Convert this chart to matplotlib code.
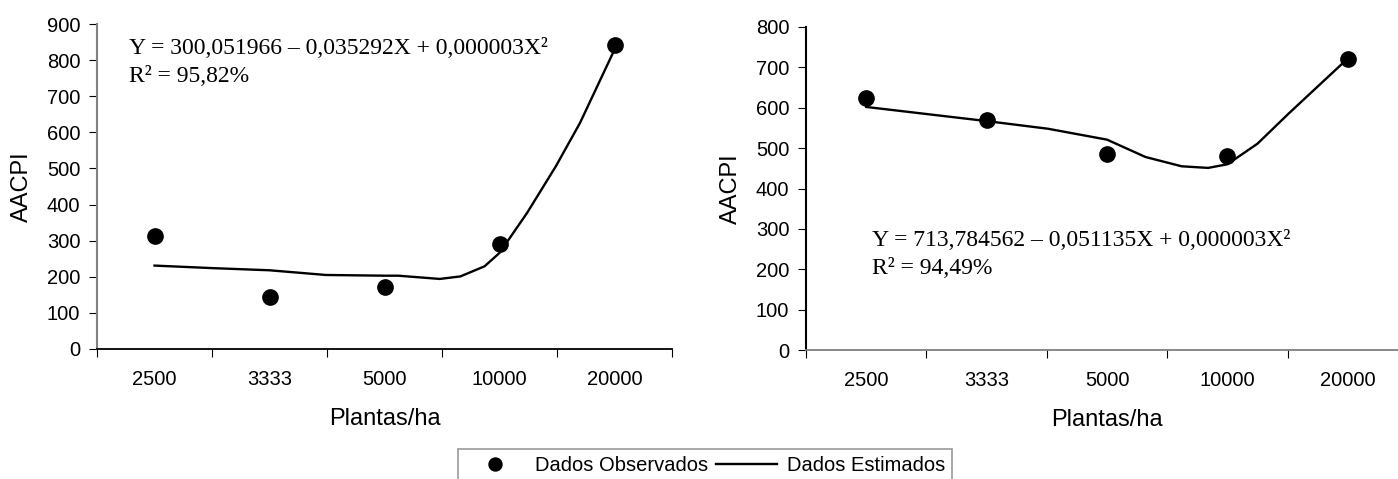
import matplotlib.pyplot as plt
import numpy as np

plt.rcParams['font.family'] = ['Liberation Sans', 'DejaVu Sans']

categorias = ['2500', '3333', '5000', '10000', '20000']

# dados observados
obs_esq = [312, 145, 173, 290, 842]
obs_dir = [625, 570, 485, 480, 720]

# curva estimada (posicao em indice de categoria)
curva_esq_x = [0, 0.5, 1, 1.49, 2, 2.12, 2.48, 2.66, 2.87, 3, 3.24, 3.49, 3.7, 4]
curva_esq_y = [231, 224, 218, 205, 203, 203, 194, 201, 229, 266, 377, 506, 626, 829]
curva_dir_x = [0, 1, 1.51, 2, 2.32, 2.62, 2.84, 3, 3.25, 3.51, 4]
curva_dir_y = [602, 567, 548, 521, 478, 455, 451, 460, 511, 586, 722]

eq_esq = ['Y = 300,051966 – 0,035292X + 0,000003X²', 'R² = 95,82%']
eq_dir = ['Y = 713,784562 – 0,051135X + 0,000003X²', 'R² = 94,49%']

W, H = 1398, 479
fig = plt.figure(figsize=(W / 100, H / 100), dpi=100)
ax1 = fig.add_axes([97 / W, 1 - 349 / H, 575 / W, 325 / H])
ax2 = fig.add_axes([806 / W, 1 - 350 / H, 602 / W, 323 / H])


def painel(ax, obs, cx, cy, ymax, cor_y, cor_x):
    x = np.arange(len(categorias))
    ax.plot(cx, cy, color='black', lw=1.7, label='Dados Estimados', zorder=2)
    ax.plot(x, obs, 'o', color='black', ms=11, label='Dados Observados', zorder=3)
    ax.set_xlim(-0.5, 4.5)
    ax.set_ylim(0, ymax)
    ax.set_yticks(np.arange(0, ymax + 1, 100))
    ax.set_xticks(np.arange(-0.5, 4.6, 1))
    ax.set_xticklabels([])
    ax.set_xticks(x, minor=True)
    ax.set_xticklabels(categorias, minor=True)
    ax.tick_params(axis='x', which='major', direction='out', length=6, color='black')
    ax.tick_params(axis='x', which='minor', length=0, pad=15, labelsize=14.5)
    ax.tick_params(axis='y', direction='out', length=6, labelsize=14.5, color='black', pad=6)
    for s in ['top', 'right']:
        ax.spines[s].set_visible(False)
    ax.spines['left'].set_color(cor_y)
    ax.spines['left'].set_linewidth(1.5)
    ax.spines['bottom'].set_color(cor_x)
    ax.spines['bottom'].set_linewidth(1.3)
    ax.set_xlabel('Plantas/ha', fontsize=17, labelpad=14)
    ax.set_ylabel('AACPI', fontsize=17, labelpad=10)


painel(ax1, obs_esq, curva_esq_x, curva_esq_y, 900, 'gray', 'black')
painel(ax2, obs_dir, curva_dir_x, curva_dir_y, 800, 'black', 'gray')


def equacao(linhas, x0, y0, y1):
    for txt, yy in zip(linhas, [y0, y1]):
        fig.text(x0 / W, 1 - yy / H, txt, fontsize=17, family='Liberation Serif',
                 va='center', ha='left')


equacao(eq_esq, 129, 49, 77)
equacao(eq_dir, 872, 241, 268)

h, l = ax1.get_legend_handles_labels()
leg = fig.legend([h[1], h[0]], [l[1], l[0]], loc='upper center', ncol=2,
                 bbox_to_anchor=(705 / W, 1 - 449 / H), fontsize=14.5, frameon=True,
                 fancybox=False, edgecolor='gray', handlelength=3.0,
                 columnspacing=0.4, handletextpad=0.5, borderpad=0.35,
                 borderaxespad=0, markerscale=0.85)
leg.get_frame().set_linewidth(1.2)

fig.savefig('out.png', dpi=100)
